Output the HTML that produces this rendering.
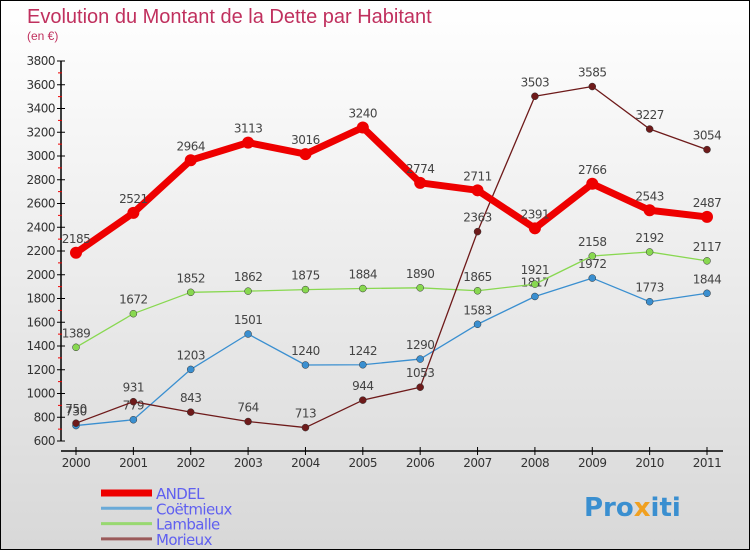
<!DOCTYPE html>
<html><head><meta charset="utf-8"><style>
body{margin:0}
#c{width:750px;height:550px;position:relative;box-sizing:border-box;border:1px solid #000;background:linear-gradient(#fff,#d8d8d8);font-family:"DejaVu Sans","Liberation Sans",sans-serif;overflow:hidden}
</style></head><body>
<div id="c">
<svg id="s" width="750" height="550" style="position:absolute;left:0;top:0">
<text x="26" y="22" font-size="20" fill="#c0305e" font-family="Liberation Sans,sans-serif">Evolution du Montant de la Dette par Habitant</text>
<text x="26" y="39" font-size="12" fill="#c0305e" font-family="Liberation Sans,sans-serif">(en €)</text>
</svg>
</div>
<script>
const years=["2000","2001","2002","2003","2004","2005","2006","2007","2008","2009","2010","2011"];
const yTicks=[600,800,1000,1200,1400,1600,1800,2000,2200,2400,2600,2800,3000,3200,3400,3600,3800];
const andel=[2185,2521,2964,3113,3016,3240,2774,2711,2391,2766,2543,2487];
const coet=[730,779,1203,1501,1240,1242,1290,1583,1817,1972,1773,1844];
const lamb=[1389,1672,1852,1862,1875,1884,1890,1865,1921,2158,2192,2117];
const mori=[750,931,843,764,713,944,1053,2363,3503,3585,3227,3054];
const names=["ANDEL","Coëtmieux","Lamballe","Morieux"];
const s=document.getElementById('s');const NS="http://www.w3.org/2000/svg";
function X(i){return 75+i*(706-75)/11}
function Y(v){return 440-(v-600)*(380/3200)}
function el(t,a,p){const e=document.createElementNS(NS,t);for(const k in a)e.setAttribute(k,a[k]);(p||s).appendChild(e);return e}
let ya=el('line',{x1:60,y1:60,x2:60,y2:440,stroke:'#000','stroke-width':1.5});


yTicks.forEach((v,i)=>{
 el('line',{x1:56,y1:Y(v),x2:64,y2:Y(v),stroke:'#000'});
 if(i<yTicks.length-1)el('line',{x1:57,y1:Y(v+100),x2:61,y2:Y(v+100),stroke:'#e00'});
 const t=el('text',{x:54,y:Y(v)+4,'font-size':12,'text-anchor':'end',fill:'#333','letter-spacing':'-0.5'});t.textContent=v;
 
 
});
let xa=el('line',{x1:60,y1:450,x2:722,y2:450,stroke:'#000','stroke-width':1.5});


years.forEach((y,i)=>{
 el('line',{x1:X(i),y1:446,x2:X(i),y2:454,stroke:'#000'});
 const t=el('text',{x:X(i),y:466,'font-size':12,'text-anchor':'middle',fill:'#333','letter-spacing':'-0.5'});t.textContent=y;
 
 
});
function series(d,col,w,r,name){
 const g=el('g',{});
 
 
 el('polyline',{points:d.map((v,i)=>X(i)+','+Y(v)).join(' '),fill:'none',stroke:col,'stroke-width':w,'stroke-linejoin':'round'},g);
 d.forEach((v,i)=>{
  const c=el('circle',{cx:X(i),cy:Y(v),r:r,fill:col,stroke:w>3?'none':'#333','stroke-width':0.5},g);
  
  
  const t=el('text',{x:X(i),y:Y(v)-10,'font-size':12,'text-anchor':'middle',fill:'#444','letter-spacing':'-0.5'},g);t.textContent=v;
 });
}
series(coet,'#3a8fd0',1.3,3.5,'coetmieux');
series(lamb,'#88d850',1.3,3.5,'lamballe');
series(mori,'#6e1a1a',1.3,3.5,'morieux');
series(andel,'#ee0000',7,6,'andel');
const lc=['#ee0000','#6aaad8','#98d870','#9a5a5a'],lw=[7,3,3,3];
names.forEach((n,i)=>{
 const y=492+i*15.3;
 el('line',{x1:100,y1:y,x2:151,y2:y,stroke:lc[i],'stroke-width':lw[i]});
 const t=el('text',{x:155,y:y+6,'font-size':15,fill:'#6060f0','letter-spacing':'-0.6'});t.textContent=n;
 
 
});
const lg=el('text',{x:583,y:515,'font-size':26,'font-weight':'bold',fill:'#3a8fd0'});
lg.innerHTML='Pro<tspan fill="#f0a020">x</tspan>iti';


</script>
</body></html>
